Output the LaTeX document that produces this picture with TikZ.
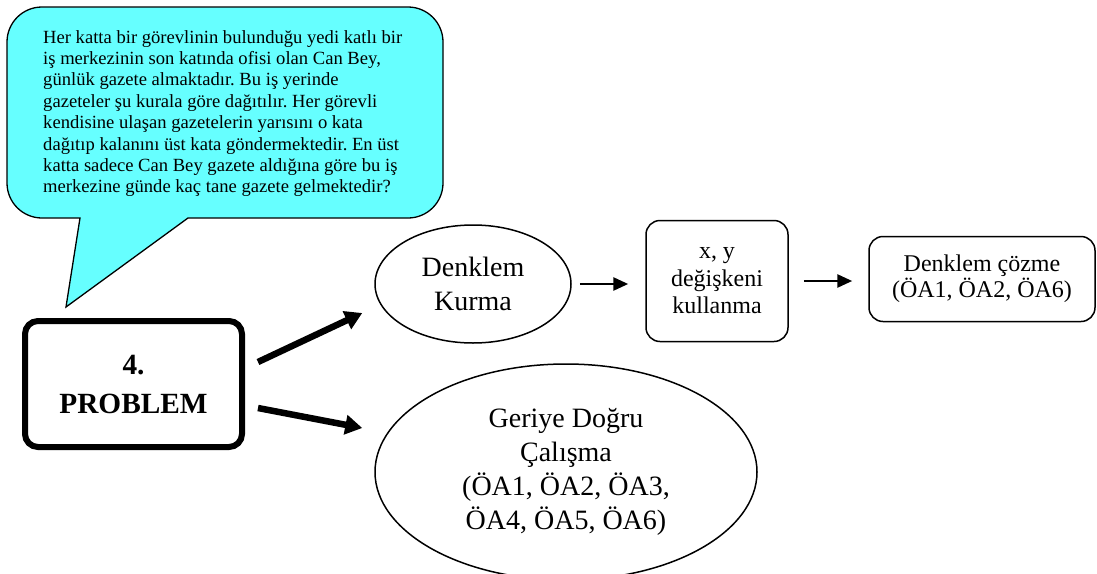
\documentclass[tikz,border=0pt]{standalone}
\usepackage{fontspec}
\setmainfont{Liberation Serif}
\usetikzlibrary{shapes.geometric, arrows.meta, positioning, calc}
\definecolor{balloonfill}{RGB}{102,255,255}
\frenchspacing

\begin{document}
\begin{tikzpicture}[
    x=1pt, y=-1pt,
    balloon/.style={draw, fill=balloonfill, line width=1.3pt},
    problembox/.style={rectangle, draw, line width=6pt, rounded corners=13pt, minimum width=217pt, minimum height=126pt, inner sep=0pt, align=center, font=\fontsize{29.3}{39}\selectfont\bfseries},
    oval/.style={ellipse, draw, line width=1.5pt, inner sep=0pt, align=center, font=\fontsize{28}{33.5}\selectfont},
    stepbox/.style={rectangle, draw, line width=1.5pt, rounded corners=14pt, inner sep=0pt, align=center},
    bigarr/.style={-{Triangle[length=17pt, width=19pt]}, line width=6.5pt},
    arr/.style={-{Triangle[length=15pt, width=13pt]}, line width=2.7pt},
]
    \useasboundingbox (0,0) rectangle (1097,573);

    % Speech balloon with the question
    \draw[balloon] (300,218) [rounded corners=35pt] -- (443,218) -- (443,7) -- (7,7) -- (7,218) [sharp corners] -- (80,218) -- (66,307) -- (188,218) -- cycle;
    \node[anchor=north west, inner sep=0pt, align=left, font=\fontsize{18.6}{21.4}\selectfont] (soru) at (43,30)
        {Her katta bir görevlinin bulunduğu yedi katlı bir\\
         iş merkezinin son katında ofisi olan Can Bey,\\
         günlük gazete almaktadır. Bu iş yerinde\\
         gazeteler şu kurala göre dağıtılır. Her görevli\\
         kendisine ulaşan gazetelerin yarısını o kata\\
         dağıtıp kalanını üst kata göndermektedir. En üst\\
         katta sadece Can Bey gazete aldığına göre bu iş\\
         merkezine günde kaç tane gazete gelmektedir?};

    % Problem box
    \node[problembox] (problem) at (133.5,384) {4.\\PROBLEM};

    % Solution ways
    \node[oval, minimum width=196pt, minimum height=118pt] (kurma) at (473,284) {Denklem\\Kurma};
    \node[oval, minimum width=382pt, minimum height=216pt, font=\fontsize{28}{34}\selectfont] (geriye) at (566,472) {Geriye Doğru\\Çalışma\\(ÖA1, ÖA2, ÖA3,\\ÖA4, ÖA5, ÖA6)};

    % Steps of the equation way
    \node[stepbox, minimum width=142pt, minimum height=121pt, font=\fontsize{24}{27.5}\selectfont] (degisken) at (717,281) {x, y\\değişkeni\\kullanma};
    \node[stepbox, minimum width=226pt, minimum height=85pt, font=\fontsize{24}{26}\selectfont] (cozme) at (982,279) {Denklem çözme\\(ÖA1, ÖA2, ÖA6)};

    % Arrows
    \draw[bigarr] ($(problem.east)+(13,-22)$) -- ($(kurma.west)+(-12,29)$);
    \draw[bigarr] ($(problem.east)+(13,24)$) -- ($(geriye.west)+(-12,-44)$);
    \draw[arr] ([xshift=8pt]kurma.east) -- ([xshift=-17pt]kurma.east -| degisken.west);
    \draw[arr] ([xshift=15pt]degisken.east) -- ([xshift=-16pt]degisken.east -| cozme.west);
\end{tikzpicture}
\end{document}
